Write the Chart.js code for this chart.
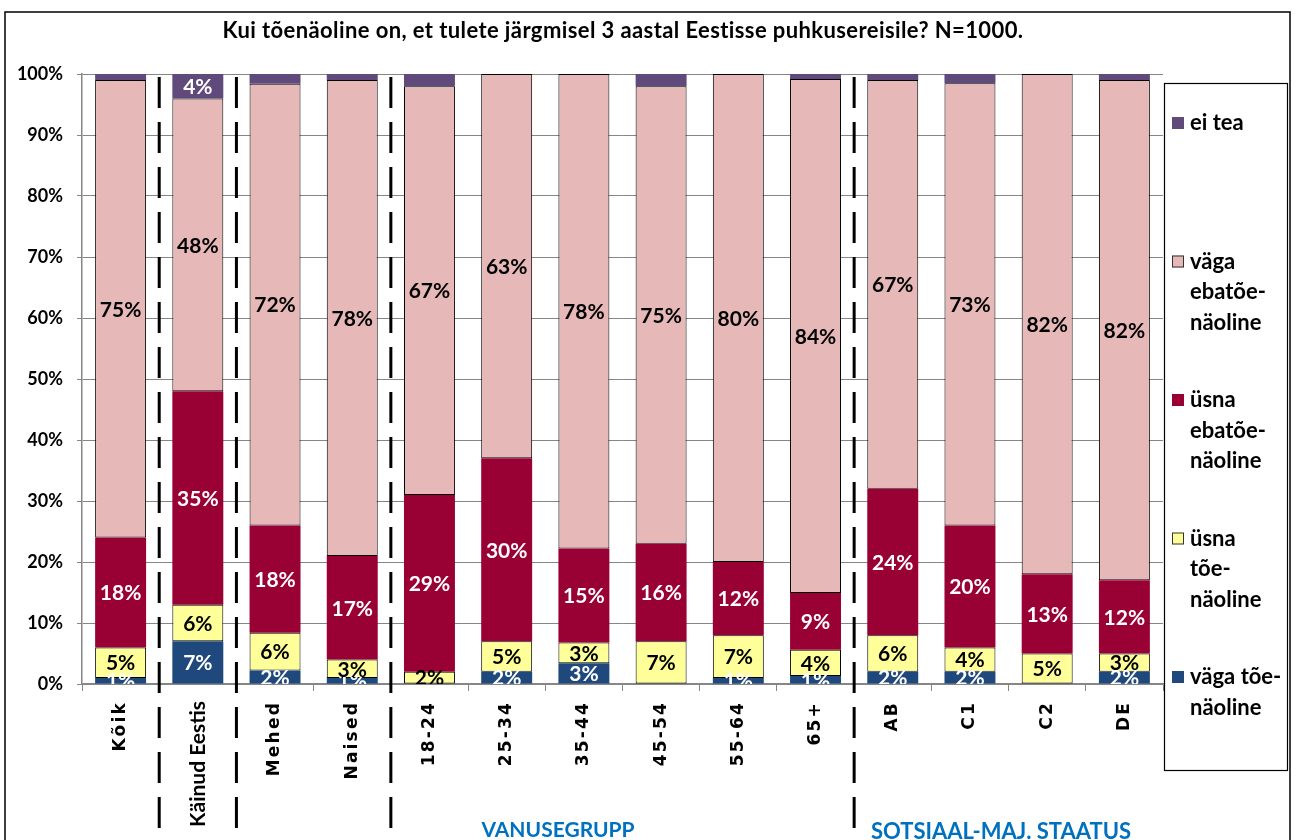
<!DOCTYPE html>
<html>
<head>
<meta charset="utf-8">
<script src="https://cdn.jsdelivr.net/npm/chart.js@4"></script>
<style>
  body { margin: 0; background: #fff; }
  #wrap { width: 1297px; height: 840px; position: relative; }
</style>
</head>
<body>
<div id="wrap"><canvas id="grafik"></canvas></div>
<script>
const kategooriad = ["Kõik", "Käinud Eestis", "Mehed", "Naised", "18-24", "25-34", "35-44", "45-54", "55-64", "65+", "AB", "C1", "C2", "DE"];

const vagaToen = [1, 7, 2.2, 1, 0, 2, 3.4, 0, 1, 1.3, 2, 2, 0, 2];
const usnaToen = [5, 6, 6.2, 3, 2, 5, 3.4, 7, 7, 4.3, 6, 4, 5, 3];
const usnaEbatoen = [18, 35, 17.6, 17, 29, 30, 15.4, 16, 12, 9.3, 24, 20, 13, 12];
const vagaEbatoen = [75, 48, 72.4, 78, 67, 63, 77.8, 75, 80, 84.3, 67, 72.5, 82, 82];
const eiTea = [1, 4, 1.6, 1, 2, 0, 0, 2, 0, 0.8, 1, 1.5, 0, 1];

const yTicks = [0, 10, 20, 30, 40, 50, 60, 70, 80, 90, 100];

// legend text, split the way the original wraps it
const legendiRead = {
  vagaToen: ["väga tõe-", "näoline"],
  usnaToen: ["üsna", "tõe-", "näoline"],
  usnaEbatoen: ["üsna", "ebatõe-", "näoline"],
  vagaEbatoen: ["väga", "ebatõe-", "näoline"],
  eiTea: ["ei tea"],
};

const pealkiri = "Kui tõenäoline on, et tulete järgmisel 3 aastal Eestisse puhkusereisile? N=1000.";
const eraldajadParast = [0, 1, 3, 9];

Chart.defaults.font.family = "Lato";

const seeriad = [
  { key: "vagaToen", label: "väga tõenäoline", data: vagaToen, color: "#1F497D", text: "#fff", border: 0 },
  { key: "usnaToen", label: "üsna tõenäoline", data: usnaToen, color: "#FFFF99", text: "#000", border: 1 },
  { key: "usnaEbatoen", label: "üsna ebatõenäoline", data: usnaEbatoen, color: "#990033", text: "#fff", border: 0 },
  { key: "vagaEbatoen", label: "väga ebatõenäoline", data: vagaEbatoen, color: "#E6B9B8", text: "#000", border: 1 },
  { key: "eiTea", label: "ei tea", data: eiTea, color: "#604A7B", text: "#fff", border: 0 },
];

const joonised = {
  id: "joonised",
  afterDatasetsDraw(chart) {
    const ctx = chart.ctx;
    const area = chart.chartArea;

    // value labels
    ctx.save();
    ctx.beginPath();
    ctx.rect(area.left, area.top, area.right - area.left, area.bottom - area.top);
    ctx.clip();
    ctx.font = "bold 21px Lato";
    ctx.textAlign = "center";
    ctx.textBaseline = "middle";
    chart.data.datasets.forEach((ds, d) => {
      const meta = chart.getDatasetMeta(d);
      meta.data.forEach((el, i) => {
        const v = ds.data[i];
        if (v < 0.5) return;
        if (d === 4 && v < 3) return;
        const p = el.getProps(["x", "y", "base"], true);
        ctx.fillStyle = seeriad[d].text;
        ctx.fillText(Math.round(v) + "%", p.x, (p.y + p.base) / 2 + 1);
      });
    });
    ctx.restore();

    // dashed separators
    const x = chart.scales.x;
    ctx.save();
    ctx.strokeStyle = "#000";
    ctx.lineWidth = 3;
    ctx.setLineDash([31, 14]);
    eraldajadParast.forEach((i) => {
      const px = (x.getPixelForValue(i) + x.getPixelForValue(i + 1)) / 2;
      ctx.beginPath();
      ctx.moveTo(px, area.top + 3);
      ctx.lineTo(px, 840);
      ctx.stroke();
    });
    ctx.restore();
  },
  afterDraw(chart) {
    const ctx = chart.ctx;
    const x = chart.scales.x;
    const area = chart.chartArea;

    // outer frame
    ctx.save();
    ctx.strokeStyle = "#000";
    ctx.lineWidth = 1.5;
    ctx.strokeRect(5, 12, 1285, 840);

    // title
    ctx.fillStyle = "#000";
    ctx.font = "bold 22px Lato";
    ctx.letterSpacing = "0.4px";
    ctx.textAlign = "center";
    ctx.textBaseline = "middle";
    ctx.fillText(pealkiri, 623, 31);
    ctx.letterSpacing = "0px";

    // category labels, rotated
    kategooriad.forEach((k, i) => {
      const px = x.getPixelForValue(i);
      ctx.save();
      ctx.translate(px, area.bottom + 17);
      ctx.rotate(-Math.PI / 2);
      ctx.textAlign = "right";
      ctx.textBaseline = "middle";
      if (i === 1) {
        ctx.font = "bold 21px Lato";
        ctx.letterSpacing = "0px";
      } else {
        ctx.font = "bold 17px 'DejaVu Sans'";
        ctx.letterSpacing = "2.2px";
      }
      ctx.fillText(k, 0, 0);
      ctx.restore();
    });
    ctx.letterSpacing = "0px";

    // group labels
    ctx.fillStyle = "#0070C0";
    ctx.font = "bold 21px Lato";
    ctx.fillText("VANUSEGRUPP", 558, 830);
    ctx.font = "bold 22px Lato";
    ctx.fillText("SOTSIAAL-MAJ. STAATUS", 1001, 832);

    // legend
    ctx.fillStyle = "#fff";
    ctx.fillRect(1164, 83, 123, 687);
    ctx.strokeStyle = "#000";
    ctx.lineWidth = 1.2;
    ctx.strokeRect(1164.5, 83.5, 123, 687);
    ctx.textAlign = "left";
    ctx.font = "bold 22px Lato";
    const jrk = seeriad.slice().reverse();
    jrk.forEach((s, j) => {
      const y0 = 123 + j * 138.5;
      ctx.fillStyle = s.color;
      ctx.fillRect(1172, y0 - 6, 12, 12);
      if (s.border) {
        ctx.strokeStyle = "#333";
        ctx.lineWidth = 1;
        ctx.strokeRect(1172.5, y0 - 5.5, 11, 11);
      }
      ctx.fillStyle = "#000";
      legendiRead[s.key].forEach((rida, r) => {
        ctx.fillText(rida, 1190, y0 + r * 30.5);
      });
    });
    ctx.restore();
  },
};

new Chart(document.getElementById("grafik"), {
  type: "bar",
  data: {
    labels: kategooriad,
    datasets: seeriad.map((s) => ({
      label: s.label,
      data: s.data,
      backgroundColor: s.color,
      borderColor: "#000",
      borderWidth: s.border,
      borderSkipped: false,
      barPercentage: 0.66,
      categoryPercentage: 1,
    })),
  },
  options: {
    responsive: true,
    maintainAspectRatio: false,
    animation: false,
    layout: {
      padding: { top: 74, left: 0, right: 134, bottom: 0 },
    },
    plugins: {
      legend: { display: false },
      title: { display: false },
      tooltip: { enabled: false },
    },
    scales: {
      x: {
        stacked: true,
        grid: {
          offset: true,
          drawOnChartArea: false,
          drawTicks: true,
          tickLength: 7,
          color: "#868686",
        },
        border: { color: "#868686", width: 1.5 },
        ticks: { display: false },
        afterFit(scale) {
          scale.height = 156;
        },
      },
      y: {
        stacked: true,
        min: 0,
        max: 100,
        afterBuildTicks(scale) {
          scale.ticks = yTicks.map((v) => ({ value: v }));
        },
        ticks: {
          callback: (v) => v + "%",
          color: "#000",
          font: { size: 18, weight: "bold" },
          padding: 14,
        },
        grid: {
          color: "#868686",
          tickLength: 5,
        },
        border: { color: "#868686", width: 1.5 },
        afterFit(scale) {
          scale.width = 82;
        },
      },
    },
  },
  plugins: [joonised],
});
</script>
</body>
</html>
